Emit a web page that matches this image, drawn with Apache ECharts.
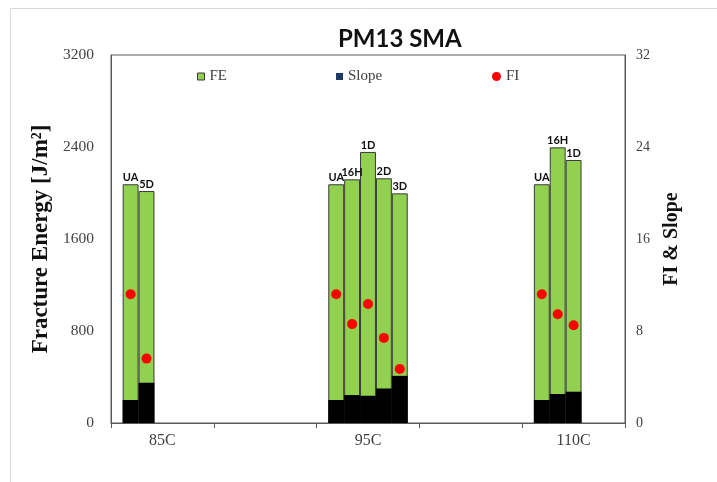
<!DOCTYPE html>
<html>
<head>
<meta charset="utf-8">
<script src="https://cdn.jsdelivr.net/npm/echarts@6/dist/echarts.min.js"></script>
<style>html,body{margin:0;padding:0;background:#fff;}#c{width:717px;height:482px;}</style>
</head>
<body>
<div id="c"></div>
<script>
// Categories (blank ones are spacer categories in the original chart)
const categories = ['85C', '', '95C', '', '110C'];

// 85C group
const labels85 = ['UA', '5D'];
const fe85 = [2076, 2017];
const slope85 = [2.0, 3.5];
const fi85 = [11.2, 5.6];

// 95C group
const labels95 = ['UA', '16H', '1D', '2D', '3D'];
const fe95 = [2076, 2119, 2357, 2128, 1997];
const slope95 = [2.0, 2.43, 2.37, 3.0, 4.1];
const fi95 = [11.2, 8.6, 10.35, 7.4, 4.7];

// 110C group
const labels110 = ['UA', '16H', '1D'];
const fe110 = [2076, 2397, 2287];
const slope110 = [2.0, 2.52, 2.72];
const fi110 = [11.2, 9.45, 8.5];

const leftTicks = [0, 800, 1600, 2400, 3200];
const rightTicks = [0, 8, 16, 24, 32];

const groups = [
  {labels: labels85, fe: fe85, slope: slope85, fi: fi85},
  {labels: [], fe: [], slope: [], fi: []},
  {labels: labels95, fe: fe95, slope: slope95, fi: fi95},
  {labels: [], fe: [], slope: [], fi: []},
  {labels: labels110, fe: fe110, slope: slope110, fi: fi110}
];
const nSlots = 5;

const serif = '"Liberation Serif", "DejaVu Serif", serif';
const sans = 'Lato, "Liberation Sans", sans-serif';
const GREEN = '#92D050';

const series = [];
const gap = '22.7%';
for (let s = 0; s < nSlots; s++) {
  series.push({
    name: 'FE', type: 'bar', xAxisIndex: 0, yAxisIndex: 0,
    barGap: 0, barCategoryGap: gap,
    itemStyle: {color: GREEN, borderColor: '#3a3a3a', borderWidth: 1},
    label: {
      show: true, position: 'top', distance: 1,
      fontFamily: sans, fontWeight: 'bold', fontSize: 11, color: '#111',
      formatter: p => groups[p.dataIndex].labels[s] || ''
    },
    data: groups.map(g => g.fe[s] === undefined ? null : g.fe[s])
  });
}
for (let s = 0; s < nSlots; s++) {
  series.push({
    name: 'Slope', type: 'bar', xAxisIndex: 1, yAxisIndex: 1,
    barGap: 0, barCategoryGap: gap,
    itemStyle: {color: '#000'},
    data: groups.map(g => g.slope[s] === undefined ? null : g.slope[s])
  });
}
for (let s = 0; s < nSlots; s++) {
  series.push({
    name: 'FI', type: 'pictorialBar', xAxisIndex: 1, yAxisIndex: 1,
    barGap: 0, barCategoryGap: gap,
    symbol: 'circle', symbolSize: [10, 10], symbolPosition: 'end',
    symbolOffset: [0, '-50%'],
    itemStyle: {color: '#FF0000'},
    z: 5,
    data: groups.map(g => g.fi[s] === undefined ? null : g.fi[s])
  });
}

const legendText = {fontFamily: serif, fontSize: 15, color: '#404040'};
const option = {
  animation: false,
  backgroundColor: '#fff',
  title: {
    text: 'PM13 SMA', left: 333, top: 22,
    textStyle: {fontFamily: sans, fontWeight: 'bold', fontSize: 24, color: '#111'}
  },
  legend: [
    {data: [{name: 'FE', icon: 'rect', itemStyle: {color: GREEN, borderColor: '#3a3a3a', borderWidth: 1}}],
     left: 192, top: 64, itemWidth: 7, itemHeight: 7, itemGap: 4, textStyle: legendText, selectedMode: false},
    {data: [{name: 'Slope', icon: 'rect', itemStyle: {color: '#1F3864'}}],
     left: 331, top: 64, itemWidth: 7, itemHeight: 7, textStyle: legendText, selectedMode: false},
    {data: [{name: 'FI', icon: 'circle', itemStyle: {color: '#FF0000'}}],
     left: 487, top: 64, itemWidth: 9, itemHeight: 9, textStyle: legendText, selectedMode: false}
  ],
  grid: {left: 111, right: 92, top: 55, bottom: 59, show: true, borderColor: '#595959', borderWidth: 1},
  xAxis: [
    {
      type: 'category', data: categories,
      axisLine: {lineStyle: {color: '#595959'}},
      axisTick: {show: true, interval: 0, length: 5, lineStyle: {color: '#595959'}},
      axisLabel: {interval: 0, margin: 10, fontFamily: serif, fontSize: 16, color: '#404040'}
    },
    {
      type: 'category', data: categories, show: false
    }
  ],
  yAxis: [
    {
      type: 'value', min: leftTicks[0], max: leftTicks[leftTicks.length - 1], interval: leftTicks[1] - leftTicks[0],
      name: 'Fracture Energy [J/m²]', nameLocation: 'middle', nameGap: 49,
      nameTextStyle: {fontFamily: serif, fontWeight: 'bold', fontSize: 23, color: '#111'},
      axisLine: {show: true, lineStyle: {color: '#595959'}},
      axisTick: {show: false},
      splitLine: {show: false},
      axisLabel: {margin: 17, fontFamily: serif, fontSize: 15.5, color: '#404040', formatter: v => String(v)}
    },
    {
      type: 'value', min: rightTicks[0], max: rightTicks[rightTicks.length - 1], interval: rightTicks[1] - rightTicks[0],
      position: 'right',
      name: 'FI & Slope', nameLocation: 'middle', nameGap: 37,
      nameTextStyle: {fontFamily: serif, fontWeight: 'bold', fontSize: 20, color: '#111'},
      axisLine: {show: true, lineStyle: {color: '#595959'}},
      axisTick: {show: false},
      splitLine: {show: false},
      axisLabel: {margin: 11, fontFamily: serif, fontSize: 14, color: '#404040', formatter: v => String(v)}
    }
  ],
  graphic: [{
    type: 'rect', left: 8, top: 6, silent: true, z: -10,
    shape: {width: 760, height: 520},
    style: {fill: null, stroke: '#d9d9d9', lineWidth: 1}
  }],
  series: series
};

const chart = echarts.init(document.getElementById('c'), null, {renderer: 'canvas'});
chart.setOption(option);
</script>
</body>
</html>
